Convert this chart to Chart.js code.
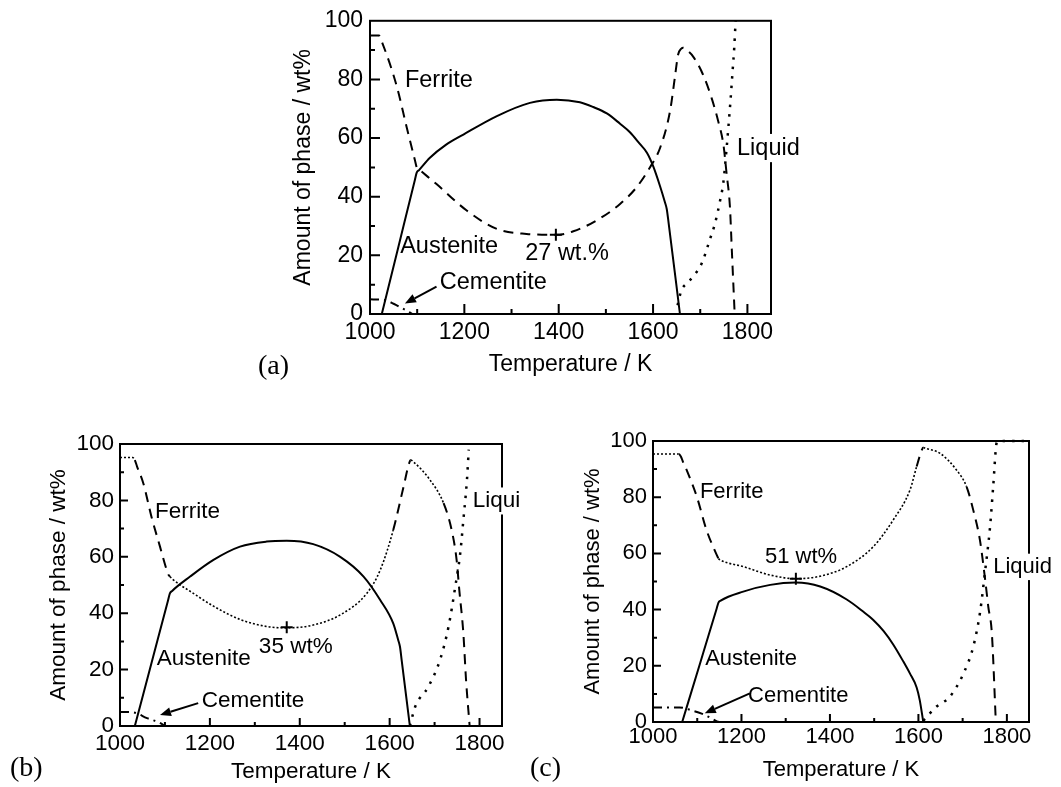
<!DOCTYPE html>
<html>
<head>
<meta charset="utf-8">
<script src="https://cdn.jsdelivr.net/npm/chart.js@4.4.1/dist/chart.umd.min.js"></script>
<style>
  html, body { margin: 0; padding: 0; background: #fff; }
  body { width: 1061px; height: 787px; position: relative; overflow: hidden; }
  canvas { position: absolute; }
  .panel { position: absolute; font-family: "Liberation Serif", "Times New Roman", serif;
           font-size: 28px; line-height: 28px; color: #000; white-space: nowrap; }
</style>
</head>
<body>
<canvas id="chartA"></canvas>
<canvas id="chartB"></canvas>
<canvas id="chartC"></canvas>
<div class="panel" style="left:258px; top:351px;">(a)</div>
<div class="panel" style="left:10px; top:753px;">(b)</div>
<div class="panel" style="left:530px; top:753px;">(c)</div>
<script>
// ---- Phase fractions (wt%) against temperature (K) ----

// (a)
const ferriteA_T    = [1000, 1019, 1026, 1057, 1078, 1095, 1099, 1104, 1141, 1205, 1269, 1332, 1394, 1431, 1480, 1530, 1565, 1593, 1615, 1636, 1646, 1653, 1660, 1664, 1670, 1685, 1706, 1724, 1738, 1749, 1756, 1763, 1767, 1773];
const ferriteA_wt   = [95, 95, 92.5, 77.5, 63.5, 52.6, 50, 49.3, 44.3, 35.3, 29, 27.3, 27, 28.2, 31.9, 37.5, 43.2, 49.9, 56.7, 69.2, 80.4, 88.4, 90.5, 90.8, 90.2, 87.8, 81.6, 73.7, 65.8, 57.9, 47.7, 36.4, 21.7, 0];
const austeniteA_T  = [1025, 1060, 1095, 1099, 1104, 1127, 1160, 1198, 1269, 1339, 1396, 1445, 1473, 1502, 1530, 1551, 1572, 1587, 1600, 1615, 1625, 1629, 1633, 1657];
const austeniteA_wt = [0, 22.8, 45.6, 48.2, 49.1, 53.3, 57.6, 61.2, 67.5, 72, 73.1, 72.2, 70.6, 68.4, 64.9, 62, 58, 55, 50.5, 43.5, 38.2, 35.8, 31, 0];
const cementiteA_T  = [1000, 1030, 1050, 1070, 1090];
const cementiteA_wt = [5, 4.8, 3.5, 1.8, 0];
const liquidA_T     = [1652, 1660, 1672, 1685, 1703, 1721, 1731, 1742, 1749, 1756, 1764, 1769, 1772, 1775];
const liquidA_wt    = [3, 8, 10.5, 12.8, 17.2, 25.7, 30.7, 38.6, 44.9, 56.7, 72.5, 83.8, 90.6, 100];
const minA = { T: 1394, wt: 27 };

// (b)
const ferriteB_T    = [1000, 1028, 1033, 1038, 1052, 1070, 1089, 1104, 1108, 1111, 1116, 1134, 1148, 1208, 1267, 1326, 1371, 1430, 1490, 1549, 1579, 1608, 1631, 1643, 1647, 1652, 1690, 1720, 1738, 1749, 1755, 1764, 1770, 1778];
const ferriteB_wt   = [95.2, 95.2, 94.3, 92, 86, 74.2, 63.6, 55.3, 53.6, 53, 52.2, 50, 48.6, 42.5, 37.8, 35.3, 34.8, 35.8, 39.4, 47, 55.3, 69.5, 84.9, 93, 94.3, 93.8, 87.2, 79, 69.5, 58.9, 48.2, 32.9, 16.3, 0];
const austeniteB_T  = [1033, 1072, 1107, 1111, 1116, 1156, 1208, 1267, 1326, 1371, 1430, 1490, 1542, 1579, 1608, 1619, 1623, 1627, 1645];
const austeniteB_wt = [0, 23.5, 44.6, 47, 47.9, 53, 58.9, 63.6, 65.4, 65.7, 64.5, 60, 53, 44.7, 36.4, 30.5, 28.1, 23, 0];
const cementiteB_T  = [1000, 1030, 1060, 1090, 1100];
const cementiteB_wt = [5, 4.8, 2.8, 1, 0];
const liquidB_T     = [1645, 1657, 1686, 1712, 1731, 1746, 1757, 1764, 1772, 1776];
const liquidB_wt    = [0, 6.9, 13.9, 23.4, 35.2, 49.4, 61.2, 73, 87.2, 98];
const minB = { T: 1371, wt: 35 };

// (c)
const ferriteC_T    = [1000, 1058, 1063, 1068, 1076, 1099, 1121, 1144, 1148, 1153, 1204, 1265, 1323, 1378, 1438, 1498, 1543, 1581, 1596, 1607, 1611, 1616, 1649, 1686, 1709, 1724, 1739, 1751, 1758, 1766, 1775];
const ferriteC_wt   = [95.4, 95.4, 94.5, 92.5, 89.7, 80.2, 68.3, 59.5, 58.2, 57.6, 55.3, 52.3, 51, 51.9, 55.3, 62.4, 71.9, 82.6, 90.9, 96.5, 97.7, 97.4, 95.6, 89.7, 83.7, 75.4, 64.8, 50.5, 41, 31.6, 0];
const austeniteC_T  = [1066, 1107, 1144, 1148, 1153, 1204, 1265, 1323, 1378, 1438, 1475, 1498, 1521, 1543, 1566, 1581, 1596, 1603, 1611];
const austeniteC_wt = [0, 21.2, 40.4, 42.5, 43.2, 46.4, 48.8, 49.6, 48.2, 43.6, 39.3, 36.3, 32.4, 27.6, 21.5, 17.2, 12.3, 7.8, 0];
const cementiteC_T  = [1000, 1060, 1090, 1110, 1130, 1150, 1600];
const cementiteC_wt = [5.2, 5.2, 4, 3, 1.5, 0, 0];
const liquidC_T     = [1611, 1641, 1671, 1702, 1724, 1739, 1751, 1762, 1769, 1777, 1780, 1850];
const liquidC_wt    = [0.5, 5.5, 9, 17.3, 26.8, 38.7, 54, 69.5, 83.7, 99.5, 100, 100];
const minC = { T: 1323, wt: 51 };

// Axis setup shared by the three panels
const tempRange = [1000, 1850];
const tempStep  = 200;
const wtRange   = [0, 100];
const wtStep    = 20;
const xTitle = 'Temperature / K';
const yTitle = 'Amount of phase / wt%';

const FONT = '"Liberation Sans", Arial, Helvetica, sans-serif';
const pts = (xs, ys) => xs.map((x, i) => ({ x, y: ys[i] }));

const DASH    = [10, 7];
const FINE    = [2, 2];
const DOTS    = [2.5, 7];
const DASHDOT = [9, 5, 2, 5];

// Frame, inward ticks, text labels and arrows
const decorPlugin = {
  id: 'decor',
  afterDatasetsDraw(chart, args, o) {
    const { ctx, chartArea: a, scales: { x, y } } = chart;
    ctx.save();
    ctx.strokeStyle = '#000';
    ctx.lineWidth = 2;
    ctx.strokeRect(a.left, a.top, a.right - a.left, a.bottom - a.top);

    // inward major ticks from the scales, minor ticks halfway between
    ctx.beginPath();
    const xt = x.ticks.map(t => t.value);
    xt.forEach((v, i) => {
      const px = x.getPixelForValue(v);
      if (i > 0) { ctx.moveTo(px, a.bottom); ctx.lineTo(px, a.bottom - o.major); }
      const mv = v + tempStep / 2;
      if (mv < tempRange[1]) {
        const mp = x.getPixelForValue(mv);
        ctx.moveTo(mp, a.bottom); ctx.lineTo(mp, a.bottom - o.minor);
      }
    });
    const yt = y.ticks.map(t => t.value);
    yt.forEach((v, i) => {
      const py = y.getPixelForValue(v);
      if (i > 0 && i < yt.length - 1) { ctx.moveTo(a.left, py); ctx.lineTo(a.left + o.major, py); }
      const mv = v + wtStep / 2;
      if (mv < wtRange[1]) {
        const mp = y.getPixelForValue(mv);
        ctx.moveTo(a.left, mp); ctx.lineTo(a.left + o.minor, mp);
      }
    });
    ctx.stroke();

    // arrow pointing at the cementite curve
    if (o.arrow) {
      const x0 = x.getPixelForValue(o.arrow.from[0]), y0 = y.getPixelForValue(o.arrow.from[1]);
      const x1 = x.getPixelForValue(o.arrow.to[0]),   y1 = y.getPixelForValue(o.arrow.to[1]);
      const ang = Math.atan2(y1 - y0, x1 - x0);
      const hl = 11, hw = 4.5;
      const bx = x1 - Math.cos(ang) * hl, by = y1 - Math.sin(ang) * hl;
      ctx.lineWidth = 2;
      ctx.beginPath(); ctx.moveTo(x0, y0); ctx.lineTo(bx, by); ctx.stroke();
      ctx.fillStyle = '#000';
      ctx.beginPath();
      ctx.moveTo(x1, y1);
      ctx.lineTo(bx - Math.sin(ang) * hw, by + Math.cos(ang) * hw);
      ctx.lineTo(bx + Math.sin(ang) * hw, by - Math.cos(ang) * hw);
      ctx.closePath(); ctx.fill();
    }

    // phase names and values
    ctx.font = o.labelSize + 'px ' + FONT;
    ctx.textBaseline = 'middle';
    ctx.textAlign = 'left';
    o.labels.forEach(l => {
      const px = x.getPixelForValue(l.T), py = y.getPixelForValue(l.wt);
      if (l.bg) {
        const w = ctx.measureText(l.text).width;
        ctx.fillStyle = '#fff';
        ctx.fillRect(px - 1, py - o.labelSize * 0.6, w + 3, o.labelSize * 1.2);
      }
      ctx.fillStyle = '#000';
      ctx.fillText(l.text, px, py);
    });
    ctx.restore();
  }
};

function inRanges(v, ranges) {
  return ranges.some(r => v >= r[0] - 0.01 && v < r[1] - 0.01);
}

function lineSet(label, data, dash, width, extra) {
  return Object.assign({
    label, data, borderColor: '#000', borderWidth: width, borderDash: dash,
    pointRadius: 0, fill: false, cubicInterpolationMode: 'monotone', clip: 3
  }, extra || {});
}

function buildChart(id, p) {
  const g = p.geom;
  const cv = document.getElementById(id);
  cv.width = g.canvas.w; cv.height = g.canvas.h;
  cv.style.left = g.canvas.left + 'px'; cv.style.top = g.canvas.top + 'px';
  cv.style.width = g.canvas.w + 'px'; cv.style.height = g.canvas.h + 'px';

  const lh = g.font * 1.2;
  const padLeft = g.yTitleX - g.canvas.left - lh / 2;
  const yWidth = g.plot.l - g.canvas.left - padLeft;
  const padTop = g.plot.t - g.canvas.top;
  const padRight = g.canvas.left + g.canvas.w - g.plot.r;
  const xBottom = g.xTitleY - g.canvas.top + lh / 2;
  const padBottom = g.canvas.h - xBottom;
  const xHeight = xBottom - (g.plot.b - g.canvas.top);

  const fineRanges = p.fine || [];
  const ferriteExtra = fineRanges.length ? {
    segment: {
      borderDash: c => inRanges(c.p0.parsed.x, fineRanges) ? FINE : DASH,
      borderWidth: c => inRanges(c.p0.parsed.x, fineRanges) ? 1.6 : 2
    }
  } : {};

  const font = { family: FONT, size: g.font };
  new Chart(cv, {
    type: 'line',
    data: {
      datasets: [
        lineSet('Ferrite', p.ferrite, DASH, 2, ferriteExtra),
        lineSet('Austenite', p.austenite, [], 2),
        lineSet('Cementite', p.cementite, DASHDOT, 2),
        lineSet('Liquid', p.liquid, DOTS, 2.5),
        { type: 'scatter', label: 'min', data: [p.min], pointStyle: 'cross',
          pointRadius: 6, borderColor: '#000', borderWidth: 2, showLine: false }
      ]
    },
    options: {
      responsive: false, animation: false, devicePixelRatio: 1,
      events: [],
      layout: { autoPadding: false, padding: { left: padLeft, top: padTop, right: padRight, bottom: padBottom } },
      plugins: {
        legend: { display: false },
        tooltip: { enabled: false },
        decor: { major: g.major, minor: g.minor, labelSize: g.labelSize, labels: p.labels, arrow: p.arrow }
      },
      scales: {
        x: {
          type: 'linear', min: tempRange[0], max: tempRange[1],
          border: { display: false }, grid: { display: false, drawTicks: false },
          ticks: { stepSize: tempStep, includeBounds: false, padding: g.tickPadX, color: '#000',
                   font, maxRotation: 0, minRotation: 0, autoSkip: false,
                   callback: v => String(v) },
          title: { display: true, text: xTitle, color: '#000', font, padding: 0 },
          afterFit: s => { s.height = xHeight; }
        },
        y: {
          type: 'linear', min: wtRange[0], max: wtRange[1],
          border: { display: false }, grid: { display: false, drawTicks: false },
          ticks: { stepSize: wtStep, padding: g.tickPadY, color: '#000', font, autoSkip: false,
                   callback: v => String(v) },
          title: { display: true, text: yTitle, color: '#000', font, padding: 0 },
          afterFit: s => { s.width = yWidth; }
        }
      }
    },
    plugins: [decorPlugin]
  });
}

buildChart('chartA', {
  ferrite: pts(ferriteA_T, ferriteA_wt),
  austenite: pts(austeniteA_T, austeniteA_wt),
  cementite: pts(cementiteA_T, cementiteA_wt),
  liquid: pts(liquidA_T, liquidA_wt),
  min: { x: minA.T, y: minA.wt },
  labels: [
    { text: 'Ferrite', T: 1074, wt: 79.7 },
    { text: 'Austenite', T: 1064, wt: 23 },
    { text: minA.wt + ' wt.%', T: 1329, wt: 20.7 },
    { text: 'Cementite', T: 1148, wt: 10.8 },
    { text: 'Liquid', T: 1778, wt: 56.6, bg: true }
  ],
  arrow: { from: [1141, 9.3], to: [1074, 3.6] },
  geom: {
    canvas: { left: 280, top: 0, w: 540, h: 395 },
    plot: { l: 370, t: 19, r: 771, b: 314 },
    yTitleX: 304, xTitleY: 365, font: 23, labelSize: 23.5,
    tickPadX: 5, tickPadY: 7, major: 10, minor: 5
  }
});

buildChart('chartB', {
  ferrite: pts(ferriteB_T, ferriteB_wt),
  austenite: pts(austeniteB_T, austeniteB_wt),
  cementite: pts(cementiteB_T, cementiteB_wt),
  liquid: pts(liquidB_T, liquidB_wt),
  min: { x: minB.T, y: minB.wt },
  fine: [[1000, 1033], [1111, 1608], [1647, 1697]],
  labels: [
    { text: 'Ferrite', T: 1078, wt: 75.9 },
    { text: 'Austenite', T: 1082, wt: 23.8 },
    { text: minB.wt + ' wt%', T: 1309, wt: 28 },
    { text: 'Cementite', T: 1182, wt: 8.9 },
    { text: 'Liquid', T: 1785, wt: 79.8, bg: true }
  ],
  arrow: { from: [1174, 8.1], to: [1089, 3.9] },
  geom: {
    canvas: { left: 40, top: 420, w: 480, h: 367 },
    plot: { l: 120, t: 444, r: 502, b: 726 },
    yTitleX: 59, xTitleY: 772, font: 22.5, labelSize: 22.5,
    tickPadX: 4, tickPadY: 6, major: 8, minor: 4
  }
});

buildChart('chartC', {
  ferrite: pts(ferriteC_T, ferriteC_wt),
  austenite: pts(austeniteC_T, austeniteC_wt),
  cementite: pts(cementiteC_T, cementiteC_wt),
  liquid: pts(liquidC_T, liquidC_wt),
  min: { x: minC.T, y: minC.wt },
  fine: [[1000, 1058], [1148, 1596], [1611, 1690]],
  labels: [
    { text: 'Ferrite', T: 1106, wt: 81.9 },
    { text: minC.wt + ' wt%', T: 1253, wt: 58.7 },
    { text: 'Austenite', T: 1118, wt: 22.4 },
    { text: 'Cementite', T: 1215, wt: 9.3 },
    { text: 'Liquid', T: 1769, wt: 55.2, bg: true }
  ],
  arrow: { from: [1219, 10.2], to: [1117, 3.1] },
  geom: {
    canvas: { left: 560, top: 420, w: 501, h: 367 },
    plot: { l: 653, t: 441, r: 1029, b: 722 },
    yTitleX: 593, xTitleY: 770, font: 22, labelSize: 22,
    tickPadX: 2, tickPadY: 6, major: 8, minor: 4
  }
});
</script>
</body>
</html>
